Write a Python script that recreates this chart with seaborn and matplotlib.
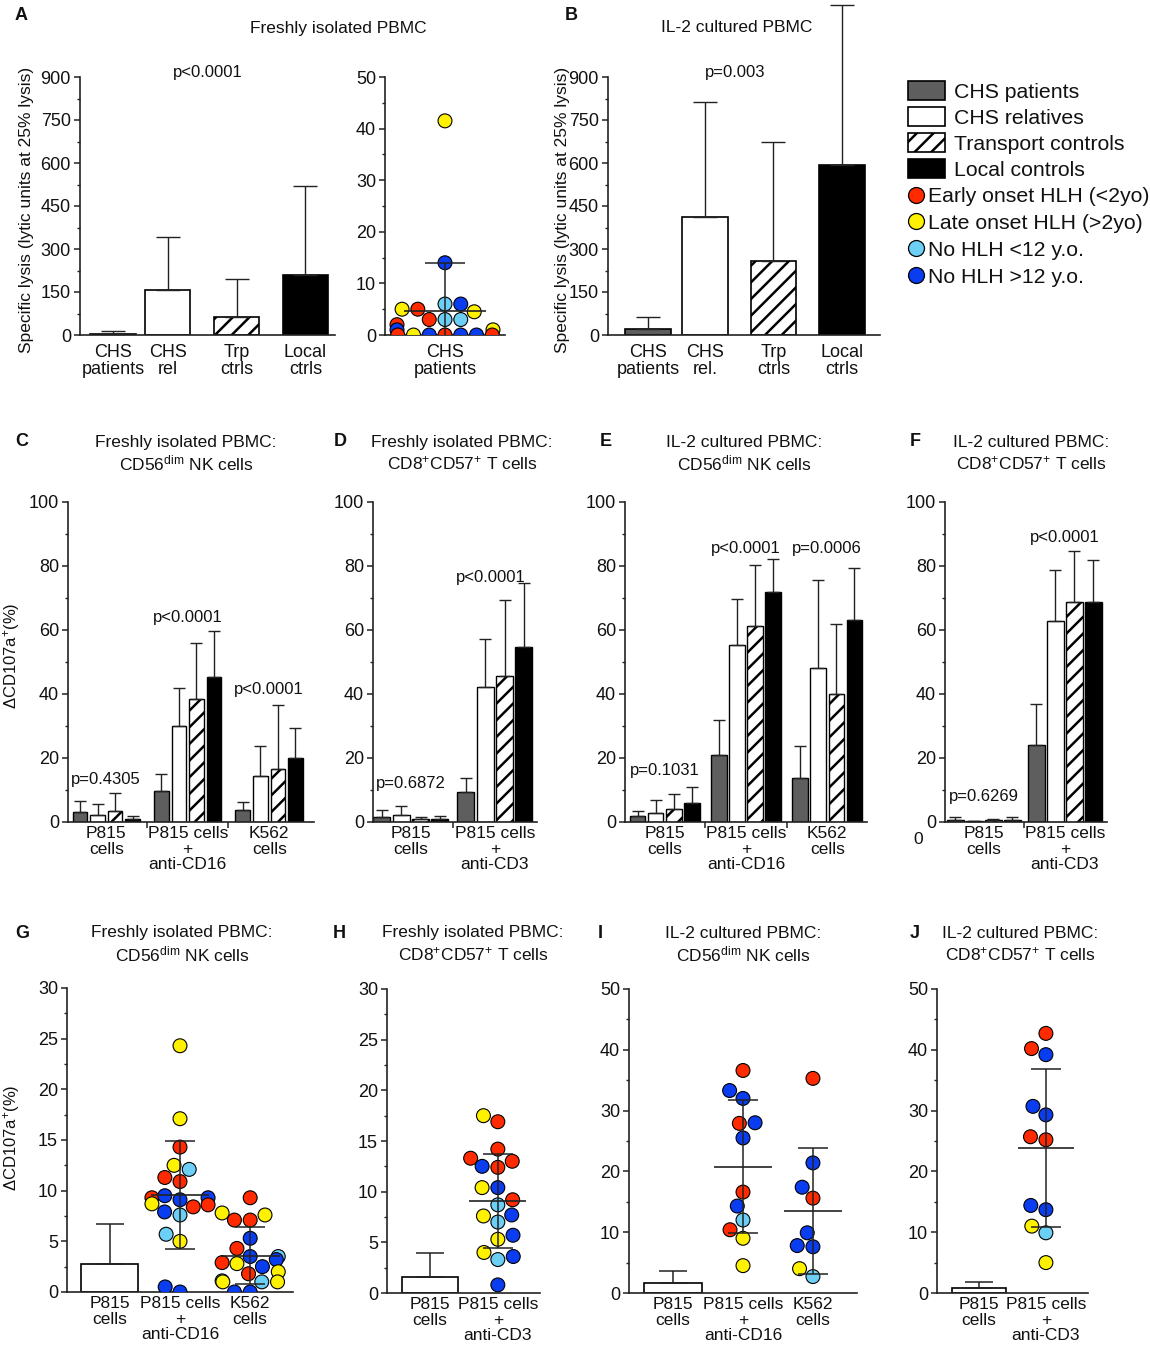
import warnings
warnings.filterwarnings("ignore")
import numpy as np
import pandas as pd
import matplotlib
matplotlib.use("Agg")
import matplotlib.pyplot as plt
import seaborn as sns
from matplotlib.patches import Patch
from matplotlib.lines import Line2D
from matplotlib.ticker import MultipleLocator
from matplotlib.container import BarContainer

sns.set_theme(style="ticks")
plt.rcParams['font.family'] = ['Liberation Sans', 'DejaVu Sans']
plt.rcParams['mathtext.fontset'] = 'custom'
plt.rcParams['mathtext.rm'] = 'Liberation Sans'
plt.rcParams['mathtext.it'] = 'Liberation Sans:italic'
plt.rcParams['hatch.linewidth'] = 1.8
plt.rcParams['hatch.color'] = 'black'
plt.rcParams['axes.edgecolor'] = '#222222'
plt.rcParams['text.color'] = '#111111'
plt.rcParams['xtick.color'] = '#222222'
plt.rcParams['ytick.color'] = '#222222'
plt.rcParams['xtick.labelcolor'] = '#111111'
plt.rcParams['ytick.labelcolor'] = '#111111'

# ---------------- data ----------------
groups4 = ["CHS patients", "CHS relatives", "Transport controls", "Local controls"]
group_colors = ["#5e5e5e", "#ffffff", "#ffffff", "#000000"]
group_hatches = [None, None, "//", None]

onset_codes = ["E", "L", "Y", "O"]
onset_labels = ["Early onset HLH (<2yo)", "Late onset HLH (>2yo)", "No HLH <12 y.o.", "No HLH >12 y.o."]
onset_colors = ["#ff2a00", "#fff200", "#6ccff6", "#0a3cf0"]

# Panel A (freshly isolated, lytic units)
a_labels = ["CHS\npatients", "CHS\nrel", "Trp\nctrls", "Local\nctrls"]
a_mean = [5, 157, 62, 208]
a_sd = [8, 185, 134, 312]
a_pts_val = [41.5, 14.0, 6.0, 5.0, 4.5, 5.0, 6.0, 3.0, 3.0, 2.0, 3.0, 1.0, 1.0,
             0.0, 0.0, 0.0, 0.0, 0.0, 0.0, 0.0]
a_pts_grp = ["L", "O", "Y", "L", "L", "E", "O", "Y", "E", "E", "Y", "O", "L",
             "O", "O", "E", "L", "E", "E", "O"]
a_pts_mean, a_pts_sd = 4.7, 9.3

# Panel B (IL-2 cultured, lytic units)
b_labels = ["CHS\npatients", "CHS\nrel.", "Trp\nctrls", "Local\nctrls"]
b_mean = [20, 410, 258, 593]
b_sd = [43, 402, 415, 557]

# Panels C-F (delta CD107a, mean + SD)
nk_conds = ["P815\ncells", "P815 cells\n+\nanti-CD16", "K562\ncells"]
t_conds = ["P815\ncells", "P815 cells\n+\nanti-CD3"]

c_mean = [[3.0, 2.3, 3.3, 1.0], [9.7, 30.0, 38.5, 45.3], [3.6, 14.3, 16.5, 20.0]]
c_sd = [[3.7, 3.2, 5.9, 1.0], [5.3, 12.0, 17.5, 14.4], [2.8, 9.4, 20.0, 9.5]]
c_p = ["p=0.4305", "p<0.0001", "p<0.0001"]
c_py = [13.4, 64.0, 41.5]

d_mean = [[1.6, 2.1, 0.8, 1.0], [9.3, 42.3, 45.6, 54.8]]
d_sd = [[2.2, 2.9, 0.8, 1.0], [4.5, 15.0, 23.9, 19.8]]
d_p = ["p=0.6872", "p<0.0001"]
d_py = [12.0, 76.5]

e_mean = [[1.8, 2.7, 4.0, 5.9], [20.8, 55.2, 61.2, 72.0], [13.6, 48.0, 40.0, 63.0]]
e_sd = [[1.7, 4.3, 4.8, 4.9], [11.0, 14.4, 19.0, 10.2], [10.2, 27.7, 22.0, 16.3]]
e_p = ["p=0.1031", "p<0.0001", "p=0.0006"]
e_py = [16.0, 85.6, 85.6]

f_mean = [[0.7, 0.3, 0.5, 0.7], [24.0, 62.7, 68.8, 68.8]]
f_sd = [[0.8, 0.1, 0.4, 0.8], [13.0, 15.9, 16.0, 13.2]]
f_p = ["p=0.6269", "p<0.0001"]
f_py = [8.0, 89.0]

# Panels G-J (CHS patients, individual values)
g_bar = (2.8, 3.9)
g_anti_val = [24.3, 17.1, 14.3, 12.5, 12.1, 11.3, 10.9, 9.3, 9.3, 9.5, 9.1, 8.7, 8.4, 8.6,
              7.9, 7.6, 5.7, 5.0, 0.5, 0.0]
g_anti_grp = ["L", "L", "E", "L", "Y", "E", "E", "O", "E", "O", "O", "L", "E", "E",
              "O", "Y", "Y", "L", "O", "O"]
g_k562_val = [9.3, 7.6, 7.8, 7.1, 7.1, 5.3, 4.3, 3.5, 3.5, 3.2, 2.9, 2.8, 2.5, 2.0,
              1.8, 1.0, 1.0, 1.1, 1.0, 0.0, 0.0]
g_k562_grp = ["E", "L", "L", "E", "E", "O", "E", "Y", "O", "O", "E", "L", "O", "L",
              "E", "Y", "L", "Y", "L", "O", "O"]
g_stats = [(9.6, 5.35), (3.6, 2.8)]

h_bar = (1.6, 2.3)
h_anti_val = [17.5, 16.9, 14.2, 13.3, 13.0, 12.5, 12.4, 10.4, 10.4, 9.2, 8.7, 7.7, 7.6,
              7.0, 5.7, 5.3, 4.0, 3.6, 3.3, 0.8]
h_anti_grp = ["L", "E", "E", "E", "E", "O", "E", "O", "L", "E", "Y", "O", "L",
              "Y", "O", "L", "L", "O", "Y", "O"]
h_stats = [(9.1, 4.65)]

i_bar = (1.7, 1.9)
i_anti_val = [36.6, 33.3, 32.0, 28.0, 27.9, 25.5, 16.6, 14.3, 12.0, 10.4, 9.0, 4.5]
i_anti_grp = ["E", "O", "O", "O", "E", "O", "E", "O", "Y", "E", "L", "L"]
i_k562_val = [35.3, 21.4, 17.4, 15.6, 9.9, 7.8, 7.6, 4.0, 2.7]
i_k562_grp = ["E", "O", "O", "E", "O", "O", "O", "L", "Y"]
i_stats = [(20.8, 11.0), (13.5, 10.3)]

j_bar = (0.8, 1.0)
j_anti_val = [42.7, 40.2, 39.2, 30.7, 29.3, 25.7, 25.2, 14.4, 13.7, 11.0, 9.9, 5.0]
j_anti_grp = ["E", "E", "O", "O", "O", "E", "E", "O", "O", "L", "Y", "L"]
j_stats = [(23.9, 13.0)]

# ---------------- layout helpers ----------------
W, H = 1150, 1348
fig = plt.figure(figsize=(W / 100, H / 100), dpi=100)
code2label = dict(zip(onset_codes, onset_labels))


def add_ax(l, t, r, b):
    return fig.add_axes([l / W, 1 - b / H, (r - l) / W, (b - t) / H])


def ftext(x, y, s, **kw):
    fig.text(x / W, 1 - y / H, s, **kw)


def style(ax, ymax, major, minor, xlim, ticks, labels, ysize=13, xsize=12.5, xpad=3):
    ax.set_ylim(0, ymax)
    ax.set_xlim(*xlim)
    ax.yaxis.set_major_locator(MultipleLocator(major))
    ax.yaxis.set_minor_locator(MultipleLocator(minor))
    sns.despine(ax=ax)
    for s in ['left', 'bottom']:
        ax.spines[s].set_linewidth(1.2)
        ax.spines[s].set_color('#222222')
    ax.tick_params(axis='y', which='major', length=4, width=1.1, labelsize=ysize, pad=2.5)
    ax.tick_params(axis='y', which='minor', length=2.5, width=1.0)
    ax.tick_params(axis='x', which='major', length=0, labelsize=xsize, pad=xpad)
    ax.set_xlabel('')
    ax.set_ylabel('')
    ax.set_xticks(list(ticks))
    ax.set_xticklabels(labels)
    for t in ax.get_xticklabels():
        t.set_linespacing(1.03)
    ax.set_facecolor('none')


def lytic_panel(ax, positions, means, sds, width, clip=True):
    df = pd.DataFrame({'pos': positions, 'mean': means, 'group': groups4})
    sns.barplot(data=df, x='pos', y='mean', hue='group', hue_order=groups4,
                palette=group_colors, native_scale=True, dodge=False, width=width,
                saturation=1, edgecolor='black', linewidth=1.2, errorbar=None,
                legend=False, ax=ax)
    for bar in list(ax.patches):
        x = bar.get_x() + bar.get_width() / 2
        gi = int(np.argmin([abs(x - p) for p in positions]))
        if group_hatches[gi]:
            bar.set_hatch(group_hatches[gi])
        ax.errorbar([x], [bar.get_height()], yerr=[[0], [sds[gi]]], fmt='none',
                    ecolor='#222222', elinewidth=1.0, capsize=8.5, capthick=1.0,
                    clip_on=clip, zorder=1)


def grouped_panel(ax, conds, means, sds, width, gap, ptexts, pys, pxs=None):
    rows = []
    for ci, c in enumerate(conds):
        for gi, g in enumerate(groups4):
            rows.append(dict(cond=c, group=g, mean=means[ci][gi]))
    df = pd.DataFrame(rows)
    sns.barplot(data=df, x='cond', y='mean', hue='group', order=conds, hue_order=groups4,
                palette=group_colors, saturation=1, width=width, gap=gap,
                edgecolor='black', linewidth=1.0, errorbar=None, legend=False, ax=ax)
    bar_conts = [c for c in ax.containers if isinstance(c, BarContainer)]
    for gi, cont in enumerate(bar_conts):
        for ci, bar in enumerate(cont):
            if group_hatches[gi]:
                bar.set_hatch(group_hatches[gi])
            x = bar.get_x() + bar.get_width() / 2
            ax.errorbar([x], [bar.get_height()], yerr=[[0], [sds[ci][gi]]], fmt='none',
                        ecolor='#222222', elinewidth=1.0, capsize=4.3, capthick=1.0,
                        zorder=1)
    if pxs is None:
        pxs = list(range(len(conds)))
    for x, s, y in zip(pxs, ptexts, pys):
        ax.text(x, y, s, ha='center', va='center', fontsize=12)


def add_minor_x(ax, n):
    ax.set_xticks([i + 0.5 for i in range(n - 1)], minor=True)
    ax.tick_params(axis='x', which='minor', length=4, width=1.1, direction='out')


def points_df(conds, vals_list, grps_list):
    rows = []
    for c, vals, grps in zip(conds, vals_list, grps_list):
        for v, g in zip(vals, grps):
            rows.append(dict(cond=c, value=v, onset=code2label[g]))
    return pd.DataFrame(rows)


def swarm(ax, df, conds, size=10):
    sns.swarmplot(data=df, x='cond', y='value', hue='onset', order=conds,
                  hue_order=onset_labels, palette=onset_colors, size=size,
                  edgecolor='black', linewidth=0.8, legend=False, ax=ax, zorder=3)


def mean_sd(ax, conds, stat_conds, stats, halfw, cap):
    for c, (m, s) in zip(stat_conds, stats):
        i = conds.index(c)
        ax.hlines(m, i - halfw, i + halfw, color='#222222', lw=1.2, zorder=5)
        ax.errorbar([i], [m], yerr=[[s], [s]], fmt='none', ecolor='#222222',
                    elinewidth=1.1, capsize=cap, capthick=1.1, zorder=5)


def dot_panel(ax, conds, bar, vals_list, grps_list, stats, barw):
    bdf = pd.DataFrame({'cond': [conds[0]], 'mean': [bar[0]]})
    sns.barplot(data=bdf, x='cond', y='mean', order=conds, color='white', saturation=1,
                edgecolor='black', linewidth=1.2, width=barw, errorbar=None, ax=ax)
    p = ax.patches[0]
    ax.errorbar([p.get_x() + p.get_width() / 2], [p.get_height()], yerr=[[0], [bar[1]]],
                fmt='none', ecolor='#222222', elinewidth=1.1, capsize=10, capthick=1.1,
                zorder=1)
    df = points_df(conds[1:], vals_list, grps_list)
    swarm(ax, df, conds)
    mean_sd(ax, conds, conds[1:], stats, 0.42, 11)


# ---------------- Panel A ----------------
axA = add_ax(80, 77, 335, 335)
a_pos = [0, 1, 2.25, 3.5]
lytic_panel(axA, a_pos, a_mean, a_sd, 0.82)
style(axA, 900, 150, 75, (-0.6, 4.04), a_pos, a_labels, ysize=13, xsize=13, xpad=6.5)
ftext(208, 73, "p<0.0001", ha='center', va='center', fontsize=12)
ftext(27, 210, "Specific lysis (lytic units at 25% lysis)", rotation=90, ha='center',
      va='center', fontsize=12.5)

axA2 = add_ax(385, 77, 505, 335)
a_cond = ["CHS\npatients"]
adf = points_df(a_cond, [a_pts_val], [a_pts_grp])
swarm(axA2, adf, a_cond)
mean_sd(axA2, a_cond, a_cond, [(a_pts_mean, a_pts_sd)], 0.345, 14.4)
style(axA2, 50, 10, 5, (-0.5, 0.5), [0], a_cond, ysize=13, xsize=13, xpad=6.5)

ftext(15, 15, "A", fontsize=13, fontweight='bold', ha='left', va='center')
ftext(338, 28, "Freshly isolated PBMC", ha='center', va='center', fontsize=12.5)

# ---------------- Panel B ----------------
axB = add_ax(608, 77, 880, 335)
b_pos = [0, 1, 2.2, 3.4]
lytic_panel(axB, b_pos, b_mean, b_sd, 0.8, clip=False)
style(axB, 900, 150, 75, (-0.7, 4.07), b_pos, b_labels, ysize=13, xsize=13, xpad=6.5)
ftext(735, 73, "p=0.003", ha='center', va='center', fontsize=12)
ftext(562, 210, "Specific lysis (lytic units at 25% lysis)", rotation=90, ha='center',
      va='center', fontsize=12.5)
ftext(565, 15, "B", fontsize=13, fontweight='bold', ha='left', va='center')
ftext(737, 28, "IL-2 cultured PBMC", ha='center', va='center', fontsize=12.5)

# Legend
patch_handles = [Patch(facecolor=c, edgecolor='black', hatch=h, linewidth=1.2)
                 for c, h in zip(group_colors, group_hatches)]
fig.legend(patch_handles, groups4, loc='upper left', bbox_to_anchor=(908 / W, 1 - 81 / H),
           frameon=False, fontsize=15.3, handlelength=1.75, handleheight=1.0,
           handletextpad=0.42, labelspacing=0.25, borderpad=0, borderaxespad=0)
dot_handles = [Line2D([0], [0], marker='o', ls='', markerfacecolor=c, markeredgecolor='black',
                      markersize=11.5, markeredgewidth=0.9) for c in onset_colors]
fig.legend(dot_handles, onset_labels, loc='upper left', bbox_to_anchor=(907 / W, 1 - 187 / H),
           frameon=False, fontsize=15.3, handlelength=0.85, handletextpad=0.12,
           labelspacing=0.37, borderpad=0, borderaxespad=0)

# ---------------- Panels C-F ----------------
ylab = r"$\Delta$CD107a$^{+}$(%)"
axC = add_ax(68, 502, 314, 822)
grouped_panel(axC, nk_conds, c_mean, c_sd, 0.86, 0.15, c_p, c_py)
style(axC, 100, 20, 10, (-0.47, 2.55), range(3), nk_conds)
add_minor_x(axC, 3)
ftext(15, 441, "C", fontsize=13, fontweight='bold', ha='left', va='center')
ftext(186, 442, "Freshly isolated PBMC:", ha='center', va='center', fontsize=12.5)
ftext(186, 463, r"CD56$^{\rm dim}$ NK cells", ha='center', va='center', fontsize=12.5)
ftext(12, 656, ylab, rotation=90, ha='center', va='center', fontsize=12)

axD = add_ax(373, 502, 537, 822)
grouped_panel(axD, t_conds, d_mean, d_sd, 0.92, 0.12, d_p, d_py, pxs=[0, 0.95])
style(axD, 100, 20, 10, (-0.45, 1.5), range(2), t_conds)
add_minor_x(axD, 2)
ftext(334, 441, "D", fontsize=13, fontweight='bold', ha='left', va='center')
ftext(462, 442, "Freshly isolated PBMC:", ha='center', va='center', fontsize=12.5)
ftext(462, 463, r"CD8$^{+}$CD57$^{+}$ T cells", ha='center', va='center', fontsize=12.5)

axE = add_ax(625, 502, 867, 822)
grouped_panel(axE, nk_conds, e_mean, e_sd, 0.89, 0.15, e_p, e_py)
style(axE, 100, 20, 10, (-0.49, 2.49), range(3), nk_conds)
add_minor_x(axE, 3)
ftext(600, 441, "E", fontsize=13, fontweight='bold', ha='left', va='center')
ftext(744, 442, "IL-2 cultured PBMC:", ha='center', va='center', fontsize=12.5)
ftext(744, 463, r"CD56$^{\rm dim}$ NK cells", ha='center', va='center', fontsize=12.5)

axF = add_ax(945, 502, 1107, 822)
grouped_panel(axF, t_conds, f_mean, f_sd, 0.94, 0.1, f_p, f_py)
style(axF, 100, 20, 10, (-0.48, 1.52), range(2), t_conds)
add_minor_x(axF, 2)
ftext(910, 441, "F", fontsize=13, fontweight='bold', ha='left', va='center')
ftext(1031, 442, "IL-2 cultured PBMC:", ha='center', va='center', fontsize=12.5)
ftext(1031, 463, r"CD8$^{+}$CD57$^{+}$ T cells", ha='center', va='center', fontsize=12.5)
ftext(918, 839, "0", ha='center', va='center', fontsize=12.5)

# ---------------- Panels G-J ----------------
axG = add_ax(67, 988, 293, 1292)
dot_panel(axG, nk_conds, g_bar, [g_anti_val, g_k562_val], [g_anti_grp, g_k562_grp],
          g_stats, 0.81)
style(axG, 30, 5, 2.5, (-0.61, 2.61), range(3), nk_conds)
ftext(15, 933, "G", fontsize=13, fontweight='bold', ha='left', va='center')
ftext(182, 933, "Freshly isolated PBMC:", ha='center', va='center', fontsize=12.5)
ftext(182, 954, r"CD56$^{\rm dim}$ NK cells", ha='center', va='center', fontsize=12.5)
ftext(12, 1138, ylab, rotation=90, ha='center', va='center', fontsize=12)

axH = add_ax(387, 989, 540, 1293)
dot_panel(axH, t_conds, h_bar, [h_anti_val], [h_anti_grp], h_stats, 0.82)
style(axH, 30, 5, 2.5, (-0.63, 1.62), range(2), t_conds)
ftext(333, 933, "H", fontsize=13, fontweight='bold', ha='left', va='center')
ftext(473, 933, "Freshly isolated PBMC:", ha='center', va='center', fontsize=12.5)
ftext(473, 954, r"CD8$^{+}$CD57$^{+}$ T cells", ha='center', va='center', fontsize=12.5)

axI = add_ax(629, 989, 857, 1293)
dot_panel(axI, nk_conds, i_bar, [i_anti_val, i_k562_val], [i_anti_grp, i_k562_grp],
          i_stats, 0.84)
style(axI, 50, 10, 5, (-0.63, 2.63), range(3), nk_conds)
ftext(598, 933, "I", fontsize=13, fontweight='bold', ha='left', va='center')
ftext(743, 933, "IL-2 cultured PBMC:", ha='center', va='center', fontsize=12.5)
ftext(743, 954, r"CD56$^{\rm dim}$ NK cells", ha='center', va='center', fontsize=12.5)

axJ = add_ax(937, 989, 1088, 1293)
dot_panel(axJ, t_conds, j_bar, [j_anti_val], [j_anti_grp], j_stats, 0.82)
style(axJ, 50, 10, 5, (-0.63, 1.63), range(2), t_conds)
ftext(910, 933, "J", fontsize=13, fontweight='bold', ha='left', va='center')
ftext(1020, 933, "IL-2 cultured PBMC:", ha='center', va='center', fontsize=12.5)
ftext(1020, 954, r"CD8$^{+}$CD57$^{+}$ T cells", ha='center', va='center', fontsize=12.5)

fig.savefig("out.png", dpi=100, facecolor='white')
